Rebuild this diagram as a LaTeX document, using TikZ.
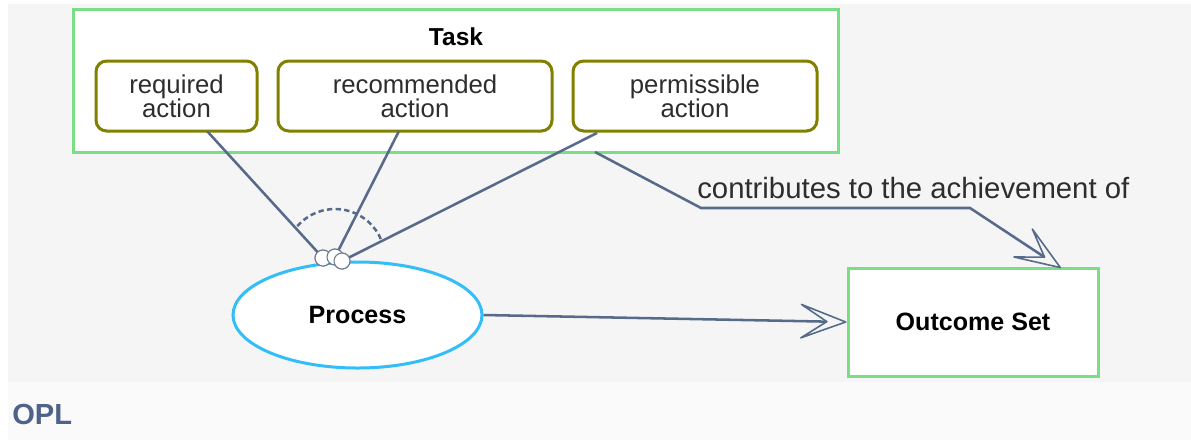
\documentclass[tikz,border=0pt]{standalone}
\usepackage{fontspec}
\setmainfont{Liberation Sans}
\usetikzlibrary{shapes.geometric,arrows.meta,calc}
\definecolor{bgA}{HTML}{F5F5F5}
\definecolor{bgB}{HTML}{FAFAFA}
\definecolor{taskgreen}{RGB}{122,222,134}
\definecolor{olivebox}{RGB}{130,128,0}
\definecolor{linkc}{RGB}{88,106,138}
\definecolor{cyanc}{RGB}{52,190,248}
\definecolor{oplc}{RGB}{78,98,138}
\definecolor{txtc}{RGB}{45,45,45}
\definecolor{pinc}{RGB}{110,122,140}
\begin{document}
\begin{tikzpicture}[x=0.75pt,y=-0.75pt,
  greenbox/.style={draw=taskgreen, line width=2.25pt, fill=white, rectangle, inner sep=0pt},
  actbox/.style={draw=olivebox, line width=2.25pt, fill=white, rectangle, rounded corners=8pt,
     minimum height=52.5pt, inner sep=0pt, align=center, text=txtc,
     font=\fontsize{19.3}{18.3}\selectfont},
  procell/.style={draw=cyanc, line width=2.25pt, fill=white, ellipse, inner sep=0pt,
     minimum width=186.75pt, minimum height=79.5pt, font=\bfseries\fontsize{18.8}{18.8}\selectfont},
  link/.style={draw=linkc, line width=1.9pt},
  opentip/.style={-{Stealth[open, length=40pt, width=30pt, inset=23pt, line width=1.2pt, round]}},
  pincirc/.style={circle, draw=pinc, line width=0.8pt, fill=white, minimum size=12pt, inner sep=0pt}
]
\useasboundingbox (0,0) rectangle (1191,440);
\fill[white] (0,0) rectangle (1191,440);
\fill[bgA] (8,4) rectangle (1191,382);
\fill[bgB] (8,382) rectangle (1191,440);

% Task group
\node[greenbox, minimum width=573.75pt, minimum height=107.25pt] (task) at (455.5,80.5) {};
\node[font=\bfseries\fontsize{18.4}{18.4}\selectfont, text=black] (tasklabel) at (456,37) {Task};
\node[actbox, minimum width=120.75pt] (req) at (176.5,96) {required\\action};
\node[actbox, minimum width=205.5pt] (rec) at (415,96) {recommended\\action};
\node[actbox, minimum width=183pt] (perm) at (695,96) {permissible\\action};

% Process and Outcome Set
\node[procell] (proc) at (357.5,315) {Process};
\node[greenbox, minimum width=187.5pt, minimum height=81pt,
      font=\bfseries\fontsize{18.8}{18.8}\selectfont] (out) at (973,322) {Outcome Set};

% connection points
\coordinate (reqfoot) at (207,131);
\coordinate (recfoot) at (399,131);
\coordinate (permfoot) at (597,133);
\coordinate (taskfoot) at (595,152);
\coordinate (bendA) at (701,208);
\coordinate (bendB) at (970,208);
\coordinate (outtop) at (1061,268);
\coordinate (arcc) at (335,259);

\node[pincirc] (c1) at (323,258) {};
\node[pincirc] (c2) at (335,257) {};
\node[pincirc] (c3) at (342,261) {};

\draw[link] (reqfoot) -- (c1.center);
\draw[link] (recfoot) -- (c2.center);
\draw[link] (permfoot) -- (c3.center);
\draw[link, dash pattern=on 4pt off 2.5pt] ($(arcc)+(139:37.5pt)$) arc[start angle=139, end angle=22, radius=37.5pt];

\node[pincirc] at (c1) {};
\node[pincirc] at (c2) {};
\node[pincirc] at (c3) {};

\draw[link, opentip] (taskfoot) -- (bendA) -- (bendB) -- (outtop);
\draw[link, opentip] (proc.east) -- (out.west);

\node[anchor=base west, font=\fontsize{22}{22}\selectfont, text=txtc, inner sep=0pt] (contrib) at (697,198) {contributes to the achievement of};

\node[anchor=base west, font=\bfseries\fontsize{21.8}{21.8}\selectfont, text=oplc, inner sep=0pt] (opl) at (12,424) {OPL};
\end{tikzpicture}
\end{document}
